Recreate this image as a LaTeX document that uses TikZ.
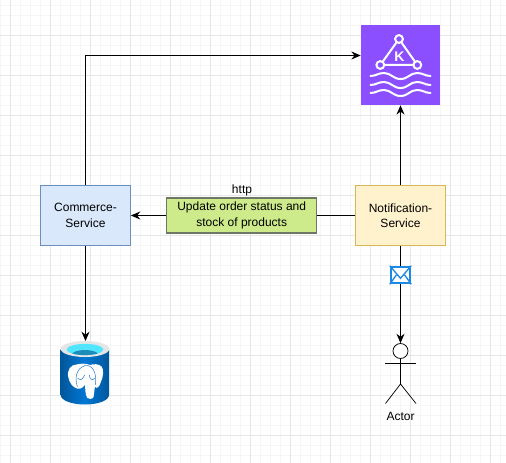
\documentclass[tikz,border=0pt]{standalone}
\usepackage{fontspec}
\setmainfont{Liberation Sans}
\usetikzlibrary{arrows.meta}
\definecolor{gridmin}{HTML}{F6F6F6}
\definecolor{gridmaj}{HTML}{E6E6E6}
\definecolor{kafkabg}{HTML}{8C4FFF}
\definecolor{mailblue}{HTML}{1E88E5}
\definecolor{dbedge}{HTML}{00579C}
\definecolor{dbmid}{HTML}{0078D4}
\definecolor{dbcyan}{HTML}{50E6FF}
\definecolor{dbteal}{HTML}{1B8DB8}
\definecolor{faceline}{HTML}{2F80C8}
\tikzset{
  x=0.75pt,y=-0.75pt,
  txt/.style={font=\fontsize{9}{11.6}\selectfont,align=center,text=black},
  svc/.style={draw,minimum width=67.5pt,minimum height=45pt,inner sep=0pt,line width=0.6pt,txt},
  flow/.style={line width=0.75pt,-{Stealth[length=7pt,width=6pt]}},
  plain/.style={line width=0.75pt},
  wave/.style={white,line width=1.5pt,line cap=round},
  limb/.style={line width=0.55pt,black},
}
\begin{document}
\begin{tikzpicture}
\useasboundingbox (0,0) rectangle (506,463);
\fill[white] (0,0) rectangle (506,463);
% grid
\foreach \x in {0,10,...,500} \draw[gridmin,line width=0.5pt] (\x,0) -- (\x,463);
\foreach \y in {5,15,...,455} \draw[gridmin,line width=0.5pt] (0,\y) -- (506,\y);
\foreach \x in {10,50,...,490} \draw[gridmaj,line width=0.6pt] (\x,0) -- (\x,463);
\foreach \y in {35,75,...,435} \draw[gridmaj,line width=0.6pt] (0,\y) -- (506,\y);

% nodes
\node[svc,fill={rgb,255:red,218;green,232;blue,252},draw={rgb,255:red,108;green,142;blue,191}] (commerce) at (85.5,215.5) {Commerce-\\Service};
\node[svc,fill={rgb,255:red,255;green,242;blue,204},draw={rgb,255:red,214;green,182;blue,86}] (notif) at (400.5,215.5) {Notification-\\Service};
\node[draw={rgb,255:red,110;green,120;blue,100},line width=1pt,fill={rgb,255:red,205;green,235;blue,139},minimum width=112.5pt,minimum height=26.25pt,inner sep=0pt,txt] (msg) at (241.7,215.5) {Update order status and\\stock of products};
\node[txt,inner sep=0pt] (http) at (242,190) {http};

% kafka icon
\node[fill=kafkabg,draw=none,minimum width=59.5pt,minimum height=60pt,inner sep=0pt] (kafka) at (400.5,65) {};
\coordinate (kafkain) at (360.7,55.5);
\begin{scope}
  \coordinate (ka) at (399,39);
  \coordinate (kb) at (380.3,65);
  \coordinate (kc) at (417.3,65);
  \draw[white,line width=1.5pt] (ka) -- (kb) -- (kc) -- cycle;
  \foreach \p in {ka,kb,kc} \draw[white,fill=kafkabg,line width=1.5pt] (\p) circle (3.9);
  \node[white,inner sep=0pt,font=\fontsize{10.5}{12}\selectfont\bfseries] (klabel) at (399.5,56.5) {K};
  \foreach \y in {76,85,93}
    \draw[wave] (370.5,\y) .. controls (376,\y-0) and (378,\y-3) .. (384,\y-3)
      .. controls (391,\y-3) and (393,\y+3) .. (400.5,\y+3)
      .. controls (408,\y+3) and (410,\y-3) .. (417,\y-3)
      .. controls (423,\y-3) and (425,\y) .. (430.5,\y);
\end{scope}

% database icon
\begin{scope}
  \shade[left color=dbedge,right color=dbedge,middle color=dbmid]
    (60.7,349) -- (60.7,395) .. controls (60.7,400.5) and (72,404.5) .. (85,404.5)
    .. controls (98,404.5) and (109,400.5) .. (109,395) -- (109,349) -- cycle;
  \fill[black!10] (85,349) ellipse [x radius=24.3,y radius=8];
  \fill[dbcyan] (85,349.5) ellipse [x radius=18.3,y radius=5.6];
  \begin{scope}
    \clip (85,349.5) ellipse [x radius=18.3,y radius=5.6];
    \fill[dbteal] (85,354.5) ellipse [x radius=13,y radius=4.5];
  \end{scope}
  \begin{scope}[shift={(40,330)},x=0.25pt,y=-0.25pt]
    \fill[white] (112,103) .. controls (92,103) and (80,120) .. (85,142)
      .. controls (88,158) and (98,172) .. (112,176)
      .. controls (122,178) and (130,172) .. (135,165)
      .. controls (136,180) and (136,195) .. (142,204)
      .. controls (148,208) and (156,208) .. (160,203)
      .. controls (163,190) and (163,178) .. (165,170)
      .. controls (170,178) and (178,172) .. (183,155)
      .. controls (190,140) and (192,118) .. (185,110)
      .. controls (175,100) and (160,102) .. (150,105)
      .. controls (138,100) and (125,100) .. (112,103) -- cycle;
    \draw[faceline,line width=0.4pt]
      (112,170) .. controls (104,145) and (108,115) .. (135,107)
      .. controls (155,103) and (172,125) .. (166,165);
    \draw[faceline,line width=0.4pt]
      (113,145) .. controls (118,150) and (124,155) .. (134,135);
    \draw[faceline,line width=0.4pt]
      (148,135) .. controls (150,150) and (156,152) .. (164,145);
  \end{scope}
\end{scope}
\coordinate (dbtop) at (85.5,341);

% actor
\node[draw,circle,minimum size=11.25pt,inner sep=0pt,line width=0.55pt,fill=white] (head) at (400.5,351) {};
\coordinate (hip) at (400.5,384);
\coordinate (armL) at (385,363.5);
\coordinate (armR) at (416,363.5);
\coordinate (footL) at (385.5,403.5);
\coordinate (footR) at (416,403.5);
\draw[limb] (head.south) -- (hip);
\draw[limb] (armL) -- (armR);
\draw[limb] (footL) -- (hip) -- (footR);
\node[txt,inner sep=0pt] (actorlabel) at (400.5,416.5) {Actor};

% connectors
\draw[flow] (commerce.north) |- (kafkain);
\draw[flow] (notif.north) -- (kafka.south);
\draw[flow] (msg.west) -- (commerce.east);
\draw[plain] (notif.west) -- (msg.east);
\draw[flow] (commerce.south) -- (dbtop);
\draw[flow] (notif.south) -- (head.north);

% envelope on the edge
\node[draw=mailblue,fill=white,line width=1.9pt,minimum width=14.2pt,minimum height=12pt,inner sep=0pt] (mail) at (400.5,275) {};
\draw[mailblue,line width=1pt] (mail.north west) -- ([yshift=-2.5pt]mail.center) -- (mail.north east);
\draw[mailblue,line width=1pt] (mail.south west) -- ([xshift=-3pt,yshift=0.2pt]mail.center);
\draw[mailblue,line width=1pt] (mail.south east) -- ([xshift=3pt,yshift=0.2pt]mail.center);
\end{tikzpicture}
\end{document}
